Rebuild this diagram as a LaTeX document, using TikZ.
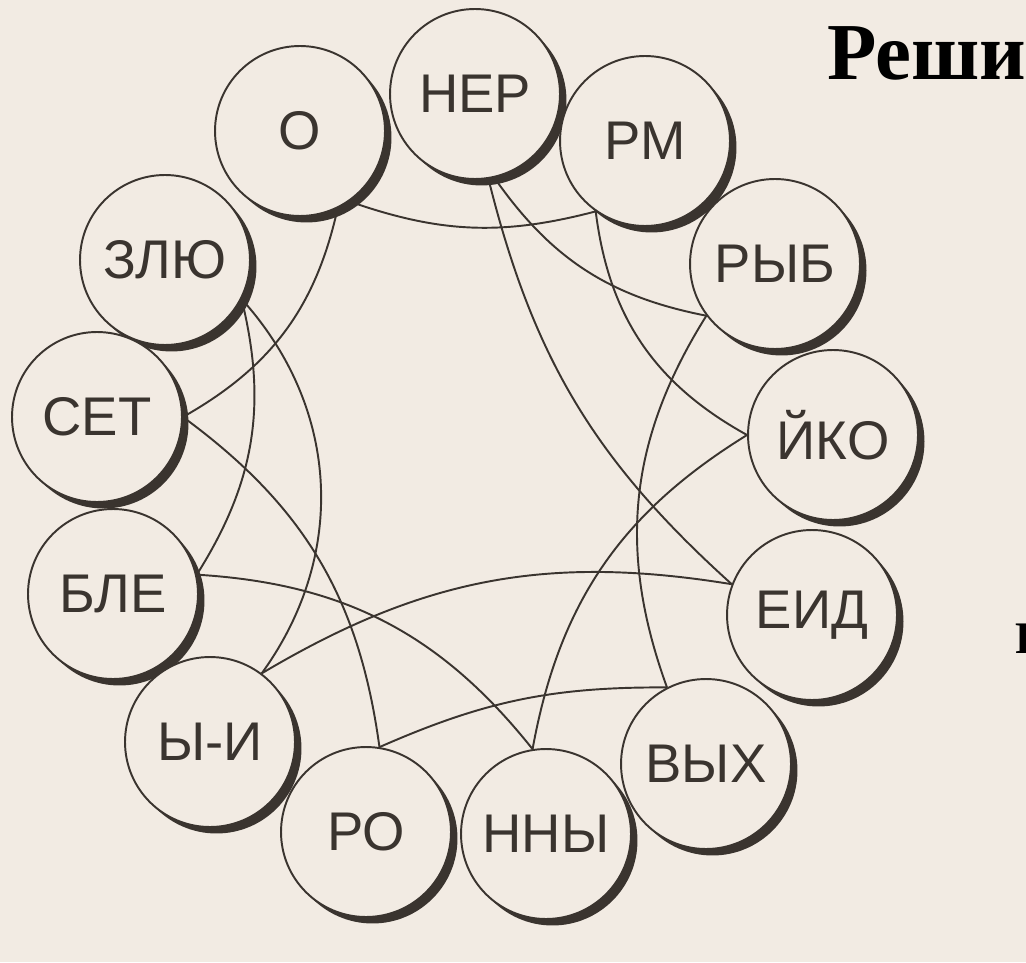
\documentclass[tikz,border=0pt]{standalone}
\usepackage{fontspec}
\setmainfont{Liberation Sans}
\newfontfamily\headfont{Liberation Serif}

\definecolor{paper}{RGB}{242,235,227}
\definecolor{ink}{RGB}{58,52,47}

\tikzset{
  word/.style={circle, draw=ink, fill=paper, line width=1.1pt, minimum size=3.4cm, inner sep=0pt,
    text=ink, font=\fontsize{31}{31}\selectfont},
  link/.style={draw=ink, line width=1.1pt},
  heading/.style={anchor=base west, inner sep=0pt, text=black},
}

% name / text / x / y (pixels, y downwards)
\newcommand\wordring{o/О/300/131, ner/НЕР/475/94, rm/РМ/645/141, ryb/РЫБ/775/264,
  yko/ЙКО/833/435, eid/ЕИД/812/615, vyh/ВЫХ/706/764, nny/ННЫ/546/834,
  ro/РО/366/832, yi/Ы-И/210/742, ble/БЛЕ/113/594, set/СЕТ/97/417, zlu/ЗЛЮ/165/260}

\begin{document}
\begin{tikzpicture}[x=0.02cm, y=-0.02cm]

	\fill[paper] (0,0) rectangle (1026,962);
	\useasboundingbox (0,0) rectangle (1026,962);

	% shadows under the circles
	\foreach \nm/\txt/\px/\py in \wordring
		\fill[ink] (\px+6.5,\py+6.5) circle[radius=1.7cm];
	\foreach \nm/\txt/\px/\py in \wordring
		\node[word] (\nm) at (\px,\py) {\txt};

	\draw[link] (o.-55) to[bend right=17] (rm.-125);
	\draw[link] (o.-64) to[bend left=24] (set.0);
	\draw[link] (ner.-77) to[bend right=22] (ryb.-143);
	\draw[link] (ner.-81) to[bend right=17] (eid.159);
	\draw[link] (rm.-125) to[bend right=27] (yko.180);
	\draw[link] (ryb.-143) to[bend right=26] (vyh.117);
	\draw[link] (yko.180) to[bend right=24] (nny.99);
	\draw[link] (zlu.-27) to[bend left=23] (ble.13);
	\draw[link] (zlu.-27) to[bend left=39] (yi.53);
	\draw[link] (set.0) to[bend left=23] (ro.81);
	\draw[link] (ble.13) to[bend left=24] (nny.99);
	\draw[link] (yi.53) to[bend left=20] (eid.159);
	\draw[link] (ro.81) to[bend left=12] (vyh.117);

	\node[heading, font=\headfont\bfseries\fontsize{46}{46}\selectfont] (title) at (827,80) {Реши};
	\node[heading, font=\headfont\bfseries\fontsize{25.7}{26}\selectfont] (cut) at (1015,653) {Р};
\end{tikzpicture}
\end{document}
